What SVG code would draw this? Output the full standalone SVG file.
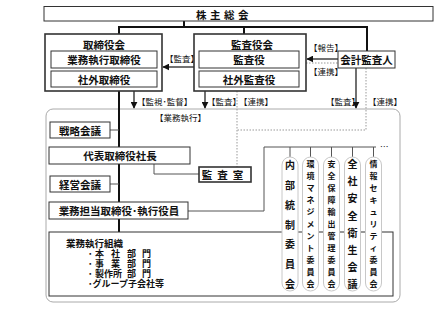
<svg xmlns="http://www.w3.org/2000/svg" width="440" height="311" viewBox="0 0 440 311">
<style>
text{font-family:"Noto Sans CJK JP","Noto Sans",sans-serif;fill:#111;font-weight:bold;dominant-baseline:central}
.t{font-size:10.5px;text-anchor:middle}
.lb{font-size:8.5px;font-weight:normal}
.sm{font-size:8px;text-anchor:middle}
.md{font-size:10px;text-anchor:middle}
.li{font-size:9px}
.box{fill:#fff;stroke:#333;stroke-width:1}
.dbl{fill:#fff;stroke:#333;stroke-width:1.6}
.pill{fill:#fff;stroke:#c8c8c8;stroke-width:1}
.thick{fill:none;stroke:#111;stroke-width:2}
.thin{fill:none;stroke:#555;stroke-width:1}
.dot{fill:none;stroke:#999;stroke-width:1;stroke-dasharray:1.5 1.5}
.arr{fill:none;stroke:#111;stroke-width:1.2}
</style>
<defs>
<marker id="ah" viewBox="0 0 10 10" refX="9" refY="5" markerWidth="7" markerHeight="7" markerUnits="userSpaceOnUse" orient="auto">
<path d="M0,0L10,5L0,10z" fill="#111"/>
</marker>
</defs>
<rect x="46" y="109" width="354" height="193" rx="7" fill="#fff" stroke="#aaa" stroke-width="1"/>
<g id="connectors">
<path class="thick" d="M184,21V27M119,34V27H367V51M244,27V34"/>
<path class="thick" d="M119,91V232"/>
<path class="arr" d="M194,67H163" marker-end="url(#ah)"/>
<path class="arr" d="M338,59H307" marker-end="url(#ah)"/>
<path class="arr" d="M134,91V108" marker-end="url(#ah)"/>
<path class="arr" d="M205,91V108" marker-end="url(#ah)"/>
<path class="arr" d="M356,68V108" marker-end="url(#ah)"/>
<path class="dot" d="M306,63H338M366,68V130H237M237,91V167"/>
<path class="thin" d="M110,130H119M110,184H119M154,164V174H199"/>
<path class="thin" d="M188,211H264V147H376M290,147V157M310.5,147V157M331.5,147V157M352.5,147V157M373.5,147V157"/>
</g>
<g id="labels">
<text class="lb" x="165" y="58">【監査】</text>
<text class="lb" x="309" y="47">【報告】</text>
<text class="lb" x="309" y="71">【連携】</text>
<text class="lb" x="137" y="101">【監視･監督】</text>
<text class="lb" x="207" y="101">【監査】</text>
<text class="lb" x="239" y="101">【連携】</text>
<text class="lb" x="326" y="101">【監査】</text>
<text class="lb" x="368" y="101">【連携】</text>
<text class="lb" x="155" y="117">【業務執行】</text>
<text class="lb" x="380" y="146">…</text>
</g>
<g id="shareholders">
<rect class="box" x="44" y="6.5" width="389" height="14.5"/>
<text class="t" x="224" y="14" style="letter-spacing:3.5px">株主総会</text>
</g>
<g id="board">
<rect class="dbl" x="45" y="34" width="117" height="57"/>
<text class="t" x="104" y="44">取締役会</text>
<rect class="box" x="51" y="51" width="106" height="17"/>
<text class="t" x="104" y="59.5">業務執行取締役</text>
<rect class="box" x="51" y="71" width="106" height="16"/>
<text class="t" x="104" y="79.5">社外取締役</text>
</g>
<g id="auditboard">
<rect class="dbl" x="194" y="34" width="112" height="57"/>
<text class="t" x="252" y="44">監査役会</text>
<rect class="box" x="199" y="51" width="100" height="17"/>
<text class="t" x="249" y="59.5">監査役</text>
<rect class="box" x="199" y="71" width="100" height="16"/>
<text class="t" x="249" y="79.5">社外監査役</text>
</g>
<g id="accountant">
<rect class="box" x="338" y="51" width="57" height="17"/>
<text class="t" x="366.5" y="59.5">会計監査人</text>
</g>
<g id="strategy">
<rect class="box" x="50" y="122" width="60" height="16"/>
<text class="t" x="80" y="130">戦略会議</text>
</g>
<g id="president">
<rect class="box" x="49" y="147" width="141" height="17"/>
<text class="t" x="120" y="155.5">代表取締役社長</text>
</g>
<g id="auditoffice">
<rect class="dbl" x="199" y="167" width="52" height="15"/>
<text class="t" x="225" y="174.5" style="letter-spacing:5px">監査室</text>
</g>
<g id="management">
<rect class="box" x="50" y="176" width="60" height="16"/>
<text class="t" x="80" y="184">経営会議</text>
</g>
<g id="officers">
<rect class="box" x="49" y="202" width="139" height="17"/>
<text class="t" x="119" y="210.5">業務担当取締役･執行役員</text>
</g>
<g id="organization">
<rect class="box" x="49" y="232" width="344" height="64"/>
<text style="font-size:9.5px" x="66" y="243">業務執行組織</text>
<text class="li" x="88" y="253">･<tspan x="95">本</tspan><tspan x="111">社</tspan><tspan x="127">部</tspan><tspan x="142">門</tspan></text>
<text class="li" x="88" y="263">･<tspan x="95">事</tspan><tspan x="111">業</tspan><tspan x="127">部</tspan><tspan x="142">門</tspan></text>
<text class="li" x="88" y="273">･<tspan x="95">製作所</tspan><tspan x="127">部</tspan><tspan x="142">門</tspan></text>
<text class="li" x="88" y="283">･グループ子会社等</text>
</g>
<g id="committee1">
<rect class="pill" x="282" y="157" width="16" height="134" rx="8"/>
<text class="md"><tspan x="290" y="164">内</tspan><tspan x="290" y="184">部</tspan><tspan x="290" y="204">統</tspan><tspan x="290" y="223.5">制</tspan><tspan x="290" y="243">委</tspan><tspan x="290" y="263">員</tspan><tspan x="290" y="283">会</tspan></text>
</g>
<g id="committee2">
<rect class="pill" x="302.5" y="157" width="16" height="134" rx="8"/>
<text class="sm"><tspan x="310.5" y="163">環</tspan><tspan x="310.5" y="175">境</tspan><tspan x="310.5" y="187">マ</tspan><tspan x="310.5" y="199">ネ</tspan><tspan x="310.5" y="211">ジ</tspan><tspan x="310.5" y="223">メ</tspan><tspan x="310.5" y="235">ン</tspan><tspan x="310.5" y="247">ト</tspan><tspan x="310.5" y="259">委</tspan><tspan x="310.5" y="271">員</tspan><tspan x="310.5" y="283">会</tspan></text>
</g>
<g id="committee3">
<rect class="pill" x="323.5" y="157" width="16" height="134" rx="8"/>
<text class="sm"><tspan x="331.5" y="163">安</tspan><tspan x="331.5" y="175">全</tspan><tspan x="331.5" y="187">保</tspan><tspan x="331.5" y="199">障</tspan><tspan x="331.5" y="211">輸</tspan><tspan x="331.5" y="223">出</tspan><tspan x="331.5" y="235">管</tspan><tspan x="331.5" y="247">理</tspan><tspan x="331.5" y="259">委</tspan><tspan x="331.5" y="271">員</tspan><tspan x="331.5" y="283">会</tspan></text>
</g>
<g id="committee4">
<rect class="pill" x="344.5" y="157" width="16" height="134" rx="8"/>
<text class="md"><tspan x="352.5" y="163">全</tspan><tspan x="352.5" y="180">社</tspan><tspan x="352.5" y="197">安</tspan><tspan x="352.5" y="214.5">全</tspan><tspan x="352.5" y="231.5">衛</tspan><tspan x="352.5" y="248.5">生</tspan><tspan x="352.5" y="266">会</tspan><tspan x="352.5" y="283">議</tspan></text>
</g>
<g id="committee5">
<rect class="pill" x="365.5" y="157" width="16" height="134" rx="8"/>
<text class="sm"><tspan x="373.5" y="163">情</tspan><tspan x="373.5" y="175">報</tspan><tspan x="373.5" y="187">セ</tspan><tspan x="373.5" y="199">キ</tspan><tspan x="373.5" y="211">ュ</tspan><tspan x="373.5" y="223">リ</tspan><tspan x="373.5" y="235">テ</tspan><tspan x="373.5" y="247">ィ</tspan><tspan x="373.5" y="259">委</tspan><tspan x="373.5" y="271">員</tspan><tspan x="373.5" y="283">会</tspan></text>
</g>
</svg>
